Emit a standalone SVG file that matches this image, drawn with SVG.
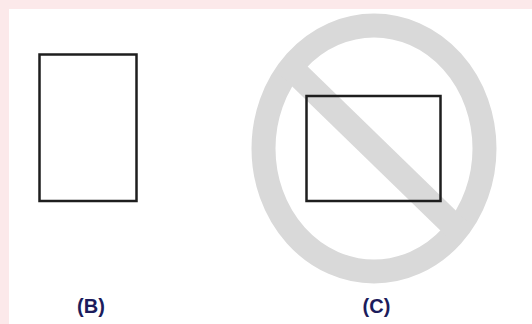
<svg xmlns="http://www.w3.org/2000/svg" width="532" height="324" viewBox="0 0 532 324">
<style>
.paper{fill:none;stroke:#1e1e1e;stroke-width:2.5}
.prohib{fill:none;stroke:#d9d9d9}
.lbl{font-family:"Liberation Sans",Arial,sans-serif;font-weight:bold;font-size:20px;fill:#1c1c5c;text-anchor:middle}
</style>
<defs>
<clipPath id="ring"><ellipse cx="374" cy="148.5" rx="122" ry="135"/></clipPath>
</defs>
<rect x="0" y="0" width="532" height="324" fill="#fce9ea"/>
<rect x="9" y="9" width="523" height="315" fill="#ffffff"/>
<g id="prohibited-sign">
<ellipse class="prohib" cx="374" cy="148.5" rx="110.5" ry="123" stroke-width="24"/>
<line class="prohib" x1="285" y1="62" x2="463" y2="235" stroke-width="25" clip-path="url(#ring)"/>
</g>
<g id="paper-b">
<rect class="paper" x="39.5" y="54.5" width="97" height="146.5"/>
</g>
<g id="paper-c">
<rect class="paper" x="306.5" y="96" width="134" height="105"/>
</g>
<g id="label-b"><text class="lbl" x="91" y="313">(B)</text></g>
<g id="label-c"><text class="lbl" x="376.5" y="313">(C)</text></g>
<g id="connectors"/>
</svg>
